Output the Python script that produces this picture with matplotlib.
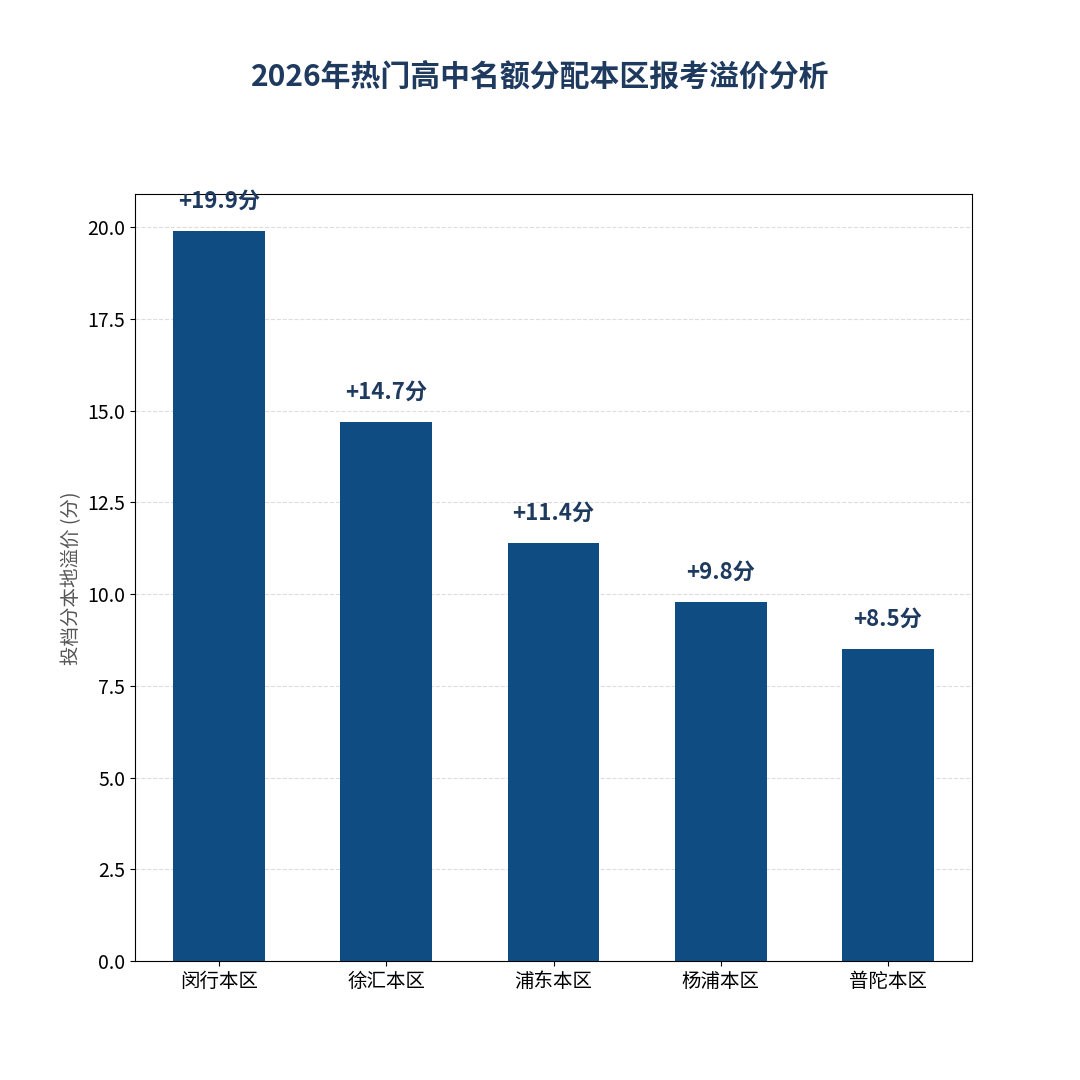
import matplotlib
matplotlib.use('Agg')
import matplotlib.pyplot as plt

plt.rcParams['font.family'] = ['Noto Sans CJK SC', 'DejaVu Sans']
plt.rcParams['axes.unicode_minus'] = False

# 数据
districts = ['闵行本区', '徐汇本区', '浦东本区', '杨浦本区', '普陀本区']
premium = [19.9, 14.7, 11.4, 9.8, 8.5]

bar_color = '#0f4c81'
text_color = '#1f3a5f'

fig, ax = plt.subplots(figsize=(10.8, 10.8), dpi=100)
fig.subplots_adjust(left=0.125, right=0.9, bottom=0.11, top=0.82)

bars = ax.bar(districts, premium, width=0.55, color=bar_color, zorder=3)

# 柱顶标注
for b, v in zip(bars, premium):
    ax.text(b.get_x() + b.get_width() / 2, v + 0.5, f'+{v}分',
            ha='center', va='bottom', fontsize=16, fontweight='bold',
            color=text_color, zorder=4)

ax.set_ylim(0, max(premium) * 1.05)
ax.set_ylabel('投档分本地溢价 (分)', fontsize=14, color='#555555')
ax.tick_params(axis='both', labelsize=14)
ax.grid(axis='y', linestyle='--', color='#d5d5d5', alpha=0.8, zorder=0)

fig.suptitle('2026年热门高中名额分配本区报考溢价分析', fontsize=21.5,
             fontweight='bold', color=text_color, y=0.943)

fig.savefig('out.png', dpi=100)
